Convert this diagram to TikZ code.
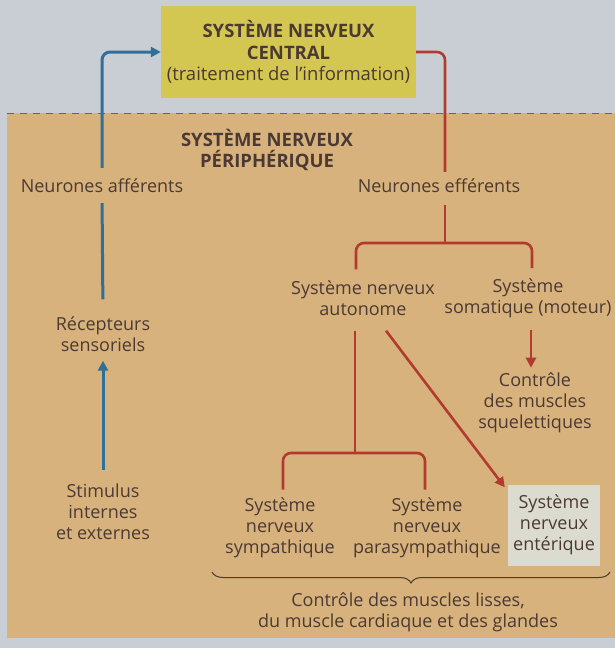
\documentclass[tikz,border=0pt]{standalone}
\usepackage{fontspec}
\setmainfont{Open Sans}
\usetikzlibrary{arrows.meta,decorations.pathreplacing}
\definecolor{fond}{HTML}{C8CED4}
\definecolor{peri}{HTML}{D8B27C}
\definecolor{jaune}{HTML}{D3C752}
\definecolor{bleu}{HTML}{2F6F98}
\definecolor{rouge}{HTML}{B23A2E}
\definecolor{texte}{HTML}{4B3A34}
\definecolor{pale}{HTML}{DCDBD0}
\begin{document}
\begin{tikzpicture}[x=1pt, y=-1pt, >={Triangle[width=10pt,length=10pt]},
  txt/.style={align=center, text=texte, font=\fontsize{18}{21}\selectfont, inner sep=0pt},
  titre/.style={txt, font=\fontsize{18.5}{21.5}\selectfont\bfseries},
  bleuf/.style={draw=bleu, line width=3pt},
  rougef/.style={draw=rouge, line width=2.6pt}]
\useasboundingbox (0,0) rectangle (615,648);
\fill[fond] (0,0) rectangle (615,648);
\fill[peri] (7,113) rectangle (615,638);
\draw[dash pattern=on 7pt off 6pt, color=texte!80, line width=1pt] (7,113) -- (615,113);

\node[titre, fill=jaune, minimum width=255pt, minimum height=92pt] (snc) at (288.5,52) {SYSTÈME NERVEUX\\CENTRAL\\{\mdseries (traitement de l’information)}};
\node[titre] (snp) at (267,150) {SYSTÈME NERVEUX\\PÉRIPHÉRIQUE};
\node[txt] (aff) at (102,186) {Neurones afférents};
\node[txt] (eff) at (439,186) {Neurones efférents};
\node[txt] (rec) at (103,334) {Récepteurs\\sensoriels};
\node[txt] (stim) at (103,512) {Stimulus\\internes\\et externes};
\node[txt] (auto) at (363,298) {Système nerveux\\autonome};
\node[txt] (soma) at (528,298) {Système\\somatique (moteur)};
\node[txt] (musq) at (535,403) {Contrôle\\des muscles\\squelettiques};
\node[txt] (symp) at (280,528) {Système\\nerveux\\sympathique};
\node[txt] (para) at (427,528) {Système\\nerveux\\parasympathique};
\node[txt, fill=pale, minimum width=92pt, minimum height=81pt] (ent) at (554,525) {Système\\nerveux\\entérique};
\node[txt] (lisses) at (408,612) {Contrôle des muscles lisses,\\du muscle cardiaque et des glandes};
\coordinate (br1) at (445,243);
\coordinate (br2) at (355,453);

% voies afférentes
\draw[bleuf, ->, rounded corners=8pt] ([yshift=11pt]aff.north) |- (snc.west);
\draw[bleuf, shorten <=10pt, shorten >=17pt] (aff.south) -- (rec.north);
\draw[bleuf, ->, shorten <=14pt, shorten >=9pt] (stim.north) -- (rec.south);

% voies efférentes
\draw[rougef, rounded corners=8pt] (snc.east) -| ([xshift=6pt,yshift=7pt]eff.north);
\draw[rougef] ([xshift=6pt,yshift=-12pt]eff.south) -- (br1);
\draw[rougef, rounded corners=8pt] ([xshift=-7pt,yshift=11pt]auto.north) |- (br1) -| ([xshift=4pt,yshift=10pt]soma.north);
\draw[rougef, ->] ([xshift=3pt,yshift=-12pt]soma.south) -- ([xshift=-4pt,yshift=5pt]musq.north);
\draw[rougef] ([xshift=-8pt,yshift=-15pt]auto.south) -- (br2);
\draw[rougef, ->] ([xshift=23pt,yshift=-15pt]auto.south) -- ([shift={(-3,3)}]ent.north west);
\draw[rougef, rounded corners=8pt] ([xshift=3pt,yshift=8pt]symp.north) |- (br2) -| ([xshift=-2pt,yshift=8pt]para.north);

\draw[decorate, decoration={brace, mirror, amplitude=11pt}, draw=texte, line width=1pt] (212,572) -- (610,572);
\end{tikzpicture}
\end{document}
